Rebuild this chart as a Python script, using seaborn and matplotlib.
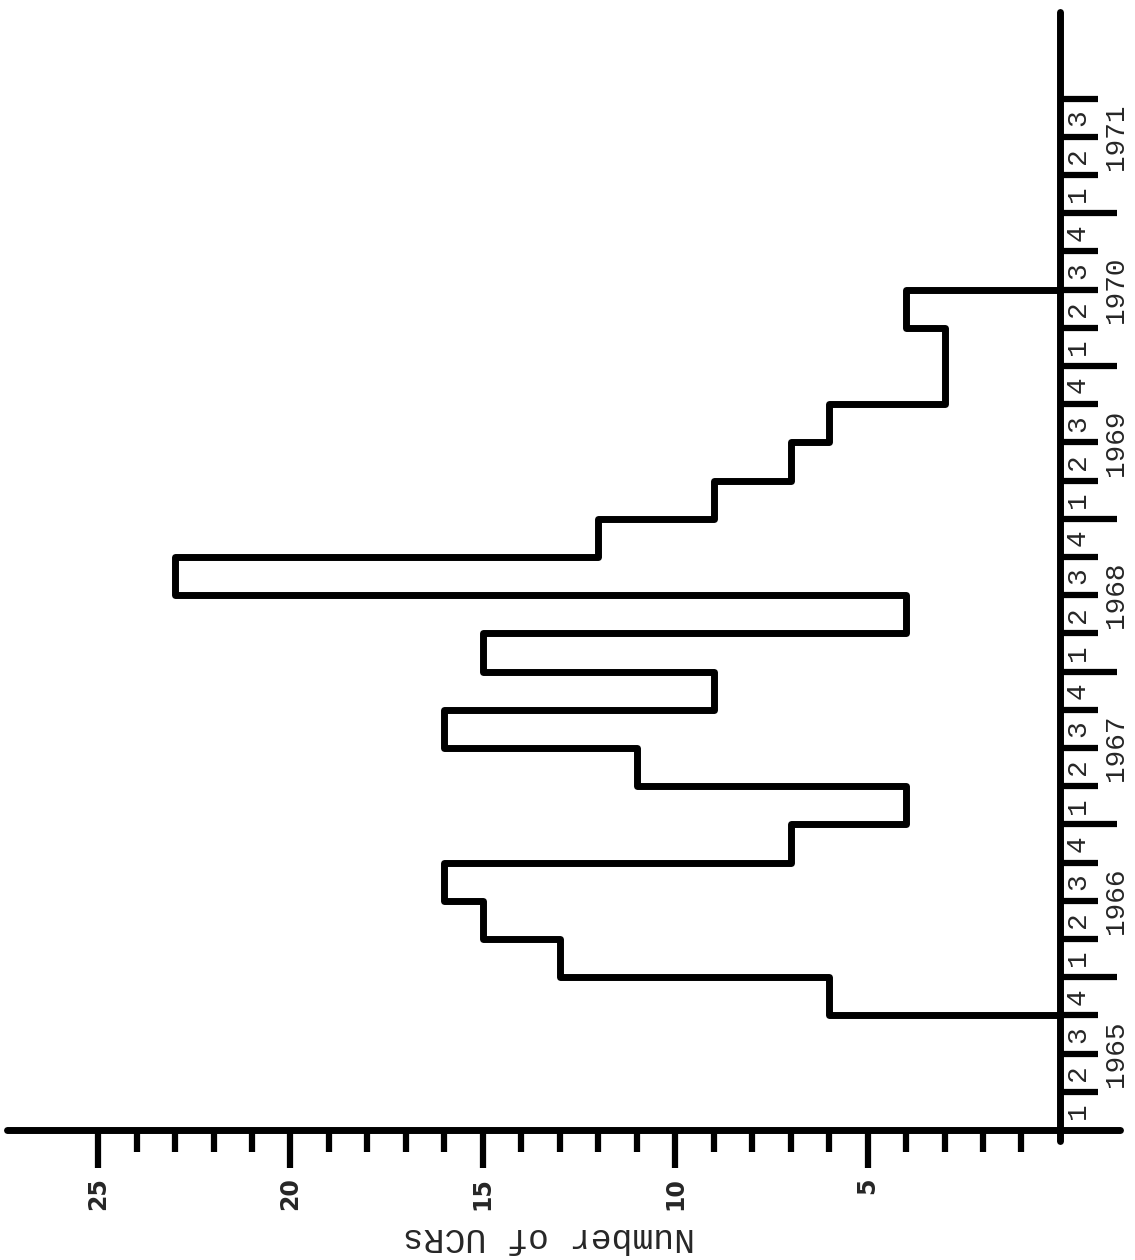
import numpy as np
import pandas as pd
import matplotlib
matplotlib.use("Agg")
import matplotlib.pyplot as plt
import seaborn as sns

# ---- data ----
years = [1965, 1966, 1967, 1968, 1969, 1970, 1971]
quarters_per_year = [4, 4, 4, 4, 4, 4, 3]
start_quarter = 3  # index of 1965 Q4 (first quarter with UCRs)
ucr_counts = [6, 13, 15, 16, 7, 4, 11, 16, 9, 15, 4, 23, 12, 9, 7, 6, 3, 3, 4]
count_major_ticks = [5, 10, 15, 20, 25]
count_minor_ticks = [v for v in range(1, 25) if v % 5 != 0]
axis_label = "Number of UCRs"

sns.set_style("white")
plt.rcParams['font.family'] = ['Liberation Mono', 'DejaVu Sans']

fig = plt.figure(figsize=(11.35, 12.6), dpi=100)
ax = fig.add_axes([0, 0, 1, 1])
ax.set_facecolor("white")

# step outline (rotated chart: x = count, y = quarter position)
xs = [0]
ys = [start_quarter]
for k, v in enumerate(ucr_counts):
    q = start_quarter + k
    xs += [v, v]
    ys += [q, q + 1]
xs.append(0)
ys.append(start_quarter + len(ucr_counts))
df = pd.DataFrame({"count": xs, "pos": ys})
sns.lineplot(data=df, x="count", y="pos", sort=False, estimator=None,
             color="black", linewidth=5, ax=ax,
             solid_joinstyle="round", solid_capstyle="round")

ax.set_xlim(27.55, -1.95)
ax.set_ylim(-3.403, 29.58)
ax.set_xlabel("")
ax.set_ylabel("")

# spines
ax.spines["top"].set_visible(False)
ax.spines["left"].set_visible(False)
for s in ("bottom", "right"):
    ax.spines[s].set_position(("data", 0))
    ax.spines[s].set_linewidth(5)
    ax.spines[s].set_capstyle("round")
    ax.spines[s].set_visible(True)
    ax.spines[s].set_color("black")
ax.spines["bottom"].set_bounds(-1.56, 27.36)
ax.spines["right"].set_bounds(-0.3, 29.27)

# count axis ticks
ax.xaxis.set_ticks_position("bottom")
ax.set_xticks(count_major_ticks)
ax.set_xticklabels([str(v) for v in count_major_ticks])
ax.set_xticks(count_minor_ticks, minor=True)
ax.tick_params(axis="x", which="major", length=27, width=4.5, direction="out",
               pad=7, labelsize=17, labelrotation=90, color="black")
ax.tick_params(axis="x", which="minor", length=16, width=4.5, direction="out",
               color="black")
for lab in ax.get_xticklabels():
    lab.set_fontfamily("DejaVu Sans")
    lab.set_fontweight("bold")

# quarter axis ticks
total_q = sum(quarters_per_year)
year_bounds = [4 * i for i in range(1, len(years))]
quarter_bounds = [b for b in range(1, total_q + 1) if b not in year_bounds]
ax.yaxis.set_ticks_position("right")
ax.set_yticks(year_bounds)
ax.set_yticks(quarter_bounds, minor=True)
ax.tick_params(axis="y", which="major", length=41, width=4.5, direction="out",
               labelright=False, labelleft=False, color="black")
ax.tick_params(axis="y", which="minor", length=27, width=4.5, direction="out",
               labelright=False, labelleft=False, color="black")

# quarter digits and years
for yi, (yr, nq) in enumerate(zip(years, quarters_per_year)):
    base = 4 * yi
    for q in range(nq):
        ax.text(-0.47, base + q + 0.5, str(q + 1), rotation=90, ha="center",
                va="center", fontsize=20, family=["Liberation Mono"])
    ax.text(-1.455, base + 2, str(yr), rotation=90, ha="center", va="center",
            fontsize=20, family=["Liberation Mono"])

fig.text(549 / 1135, 1 - 1237 / 1260, axis_label, rotation=180, ha="center",
         va="center", fontsize=25, family=["Liberation Mono"])

fig.savefig("out.png", dpi=100)
